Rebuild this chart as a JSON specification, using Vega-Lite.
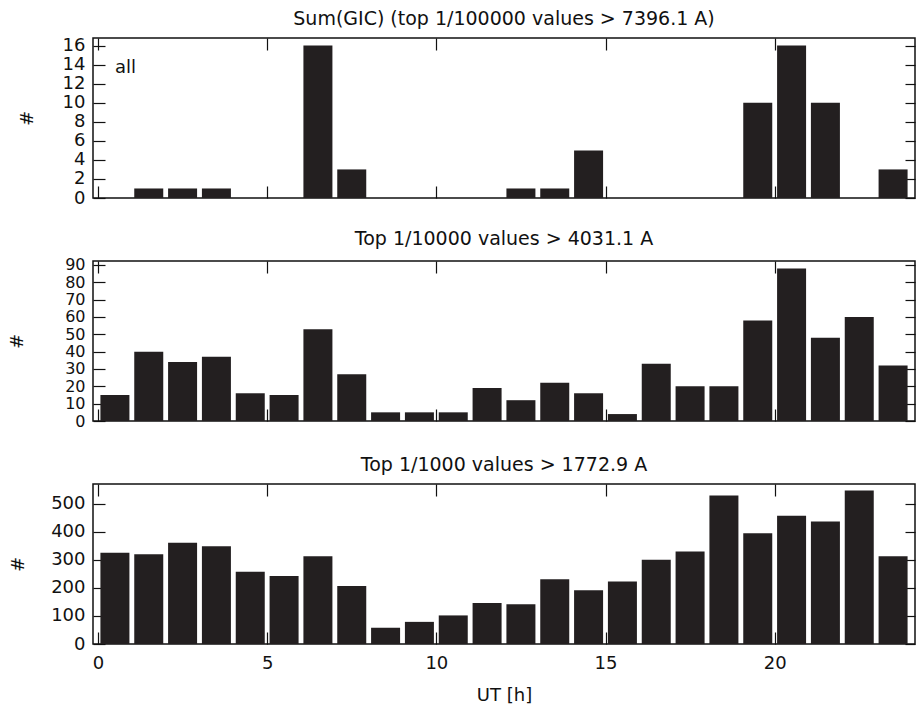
{
  "$schema": "https://vega.github.io/schema/vega-lite/v6.json",
  "background": "white",
  "padding": {"left": 7, "top": 8, "right": 0, "bottom": 0},
  "bounds": "flush",
  "spacing": 63,
  "datasets": {
    "p1": [
      {"ut": 0.5, "n": 0}, {"ut": 1.5, "n": 1}, {"ut": 2.5, "n": 1}, {"ut": 3.5, "n": 1},
      {"ut": 4.5, "n": 0}, {"ut": 5.5, "n": 0}, {"ut": 6.5, "n": 16}, {"ut": 7.5, "n": 3},
      {"ut": 8.5, "n": 0}, {"ut": 9.5, "n": 0}, {"ut": 10.5, "n": 0}, {"ut": 11.5, "n": 0},
      {"ut": 12.5, "n": 1}, {"ut": 13.5, "n": 1}, {"ut": 14.5, "n": 5}, {"ut": 15.5, "n": 0},
      {"ut": 16.5, "n": 0}, {"ut": 17.5, "n": 0}, {"ut": 18.5, "n": 0}, {"ut": 19.5, "n": 10},
      {"ut": 20.5, "n": 16}, {"ut": 21.5, "n": 10}, {"ut": 22.5, "n": 0}, {"ut": 23.5, "n": 3}
    ],
    "p2": [
      {"ut": 0.5, "n": 15}, {"ut": 1.5, "n": 40}, {"ut": 2.5, "n": 34}, {"ut": 3.5, "n": 37},
      {"ut": 4.5, "n": 16}, {"ut": 5.5, "n": 15}, {"ut": 6.5, "n": 53}, {"ut": 7.5, "n": 27},
      {"ut": 8.5, "n": 5}, {"ut": 9.5, "n": 5}, {"ut": 10.5, "n": 5}, {"ut": 11.5, "n": 19},
      {"ut": 12.5, "n": 12}, {"ut": 13.5, "n": 22}, {"ut": 14.5, "n": 16}, {"ut": 15.5, "n": 4},
      {"ut": 16.5, "n": 33}, {"ut": 17.5, "n": 20}, {"ut": 18.5, "n": 20}, {"ut": 19.5, "n": 58},
      {"ut": 20.5, "n": 88}, {"ut": 21.5, "n": 48}, {"ut": 22.5, "n": 60}, {"ut": 23.5, "n": 32}
    ],
    "p3": [
      {"ut": 0.5, "n": 326}, {"ut": 1.5, "n": 320}, {"ut": 2.5, "n": 361}, {"ut": 3.5, "n": 349},
      {"ut": 4.5, "n": 258}, {"ut": 5.5, "n": 243}, {"ut": 6.5, "n": 313}, {"ut": 7.5, "n": 207},
      {"ut": 8.5, "n": 58}, {"ut": 9.5, "n": 79}, {"ut": 10.5, "n": 102}, {"ut": 11.5, "n": 146},
      {"ut": 12.5, "n": 142}, {"ut": 13.5, "n": 231}, {"ut": 14.5, "n": 192}, {"ut": 15.5, "n": 223},
      {"ut": 16.5, "n": 301}, {"ut": 17.5, "n": 330}, {"ut": 18.5, "n": 530}, {"ut": 19.5, "n": 395},
      {"ut": 20.5, "n": 458}, {"ut": 21.5, "n": 437}, {"ut": 22.5, "n": 548}, {"ut": 23.5, "n": 313}
    ],
    "lbl": [{"label": "all", "ut": 0.5, "n": 13.7}]
  },
  "vconcat": [
    {
      "width": 822,
      "height": 160,
      "title": {"text": "Sum(GIC) (top 1/100000 values > 7396.1 A)"},
      "data": {"name": "p1"},
      "layer": [
        {
          "mark": {"type": "bar", "width": 29, "color": "#231f20"},
          "encoding": {
            "x": {"field": "ut", "type": "quantitative", "scale": {"domain": [0, 24], "nice": false, "zero": false},
                  "axis": {"orient": "bottom", "values": [0, 5, 10, 15, 20], "labels": false, "title": null, "tickSize": -12}},
            "y": {"field": "n", "type": "quantitative", "scale": {"domain": [0, 16.8], "nice": false},
                  "axis": {"orient": "left", "values": [0, 2, 4, 6, 8, 10, 12, 14, 16], "title": "#", "titleX": -57, "titleY": 80, "tickSize": -12, "labelPadding": 20}}
          }
        },
        {
          "mark": {"type": "bar", "width": 29, "opacity": 0},
          "encoding": {
            "x": {"field": "ut", "type": "quantitative", "scale": {"domain": [0, 24], "nice": false, "zero": false},
                  "axis": {"orient": "top", "values": [0, 5, 10, 15, 20], "labels": false, "title": null, "tickSize": -12}},
            "y": {"field": "n", "type": "quantitative", "scale": {"domain": [0, 16.8], "nice": false},
                  "axis": {"orient": "right", "values": [0, 2, 4, 6, 8, 10, 12, 14, 16], "labels": false, "title": null, "tickSize": -10}}
          }
        },
        {
          "data": {"name": "lbl"},
          "mark": {"type": "text", "align": "left", "baseline": "middle", "fontSize": 18, "font": "DejaVu Sans", "color": "#111"},
          "encoding": {
            "x": {"field": "ut", "type": "quantitative", "scale": {"domain": [0, 24], "nice": false, "zero": false}, "axis": null},
            "y": {"field": "n", "type": "quantitative", "scale": {"domain": [0, 16.8], "nice": false}, "axis": null},
            "text": {"field": "label"}
          }
        }
      ],
      "resolve": {"axis": {"x": "independent", "y": "independent"}}
    },
    {
      "width": 822,
      "height": 160,
      "title": {"text": "Top 1/10000 values > 4031.1 A"},
      "data": {"name": "p2"},
      "layer": [
        {
          "mark": {"type": "bar", "width": 29, "color": "#231f20"},
          "encoding": {
            "x": {"field": "ut", "type": "quantitative", "scale": {"domain": [0, 24], "nice": false, "zero": false},
                  "axis": {"orient": "bottom", "values": [0, 5, 10, 15, 20], "labels": false, "title": null, "tickSize": -12}},
            "y": {"field": "n", "type": "quantitative", "scale": {"domain": [0, 92.3], "nice": false},
                  "axis": {"orient": "left", "values": [0, 10, 20, 30, 40, 50, 60, 70, 80, 90], "title": "#", "titleX": -67, "titleY": 80, "tickSize": -12, "labelPadding": 20, "labelFontSize": 16}}
          }
        },
        {
          "mark": {"type": "bar", "width": 29, "opacity": 0},
          "encoding": {
            "x": {"field": "ut", "type": "quantitative", "scale": {"domain": [0, 24], "nice": false, "zero": false},
                  "axis": {"orient": "top", "values": [0, 5, 10, 15, 20], "labels": false, "title": null, "tickSize": -12}},
            "y": {"field": "n", "type": "quantitative", "scale": {"domain": [0, 92.3], "nice": false},
                  "axis": {"orient": "right", "values": [0, 10, 20, 30, 40, 50, 60, 70, 80, 90], "labels": false, "title": null, "tickSize": -10}}
          }
        }
      ],
      "resolve": {"axis": {"x": "independent", "y": "independent"}}
    },
    {
      "width": 822,
      "height": 160,
      "title": {"text": "Top 1/1000 values > 1772.9 A"},
      "data": {"name": "p3"},
      "layer": [
        {
          "mark": {"type": "bar", "width": 29, "color": "#231f20"},
          "encoding": {
            "x": {"field": "ut", "type": "quantitative", "scale": {"domain": [0, 24], "nice": false, "zero": false},
                  "axis": {"orient": "bottom", "values": [0, 5, 10, 15, 20], "title": "UT [h]", "tickSize": -12, "labelPadding": 22, "titlePadding": 14}},
            "y": {"field": "n", "type": "quantitative", "scale": {"domain": [0, 571], "nice": false},
                  "axis": {"orient": "left", "values": [0, 100, 200, 300, 400, 500], "title": "#", "titleX": -66, "titleY": 80, "tickSize": -12, "labelPadding": 20}}
          }
        },
        {
          "mark": {"type": "bar", "width": 29, "opacity": 0},
          "encoding": {
            "x": {"field": "ut", "type": "quantitative", "scale": {"domain": [0, 24], "nice": false, "zero": false},
                  "axis": {"orient": "top", "values": [0, 5, 10, 15, 20], "labels": false, "title": null, "tickSize": -12}},
            "y": {"field": "n", "type": "quantitative", "scale": {"domain": [0, 571], "nice": false},
                  "axis": {"orient": "right", "values": [0, 100, 200, 300, 400, 500], "labels": false, "title": null, "tickSize": -10}}
          }
        }
      ],
      "resolve": {"axis": {"x": "independent", "y": "independent"}}
    }
  ],
  "config": {
    "font": "DejaVu Sans",
    "view": {"stroke": "#111", "strokeWidth": 1.5},
    "axis": {
      "domain": false,
      "grid": false,
      "labelOverlap": false,
      "labelFont": "DejaVu Sans",
      "labelFontSize": 18,
      "labelColor": "#111",
      "tickColor": "#111",
      "tickWidth": 1.2,
      "titleFont": "DejaVu Sans",
      "titleFontSize": 18,
      "titleFontWeight": "normal",
      "titleColor": "#111"
    },
    "title": {"font": "DejaVu Sans", "fontSize": 19, "fontWeight": "normal", "color": "#111", "anchor": "middle", "offset": 8}
  }
}
